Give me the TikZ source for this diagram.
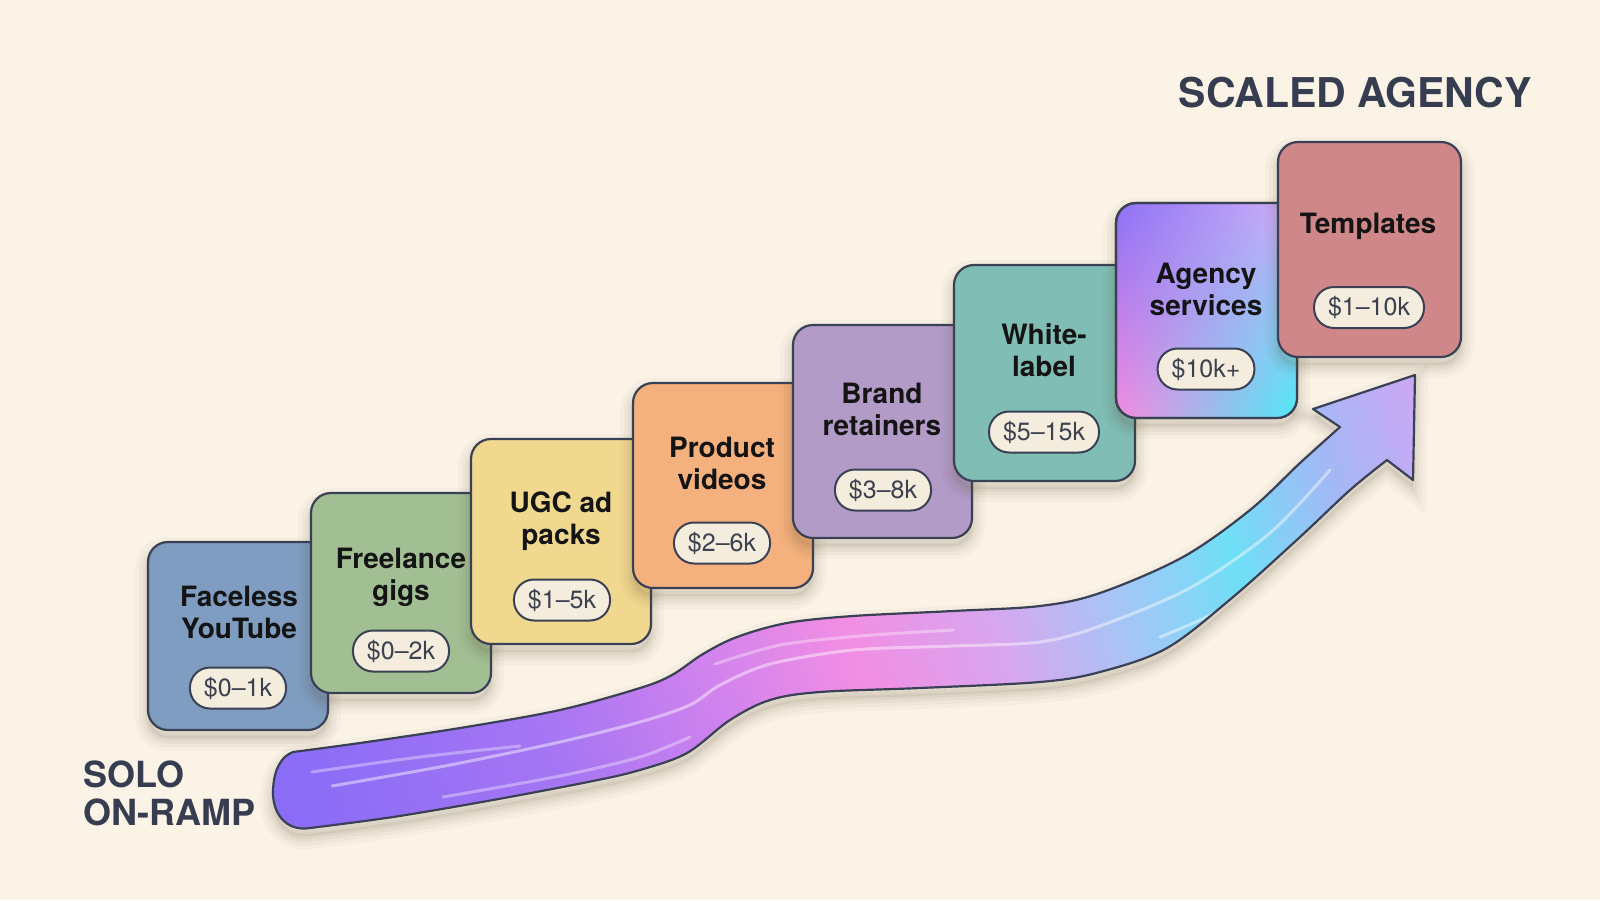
\documentclass[tikz,border=0pt]{standalone}
\usepackage{fontspec}
\setmainfont{TeX Gyre Heros}
\usetikzlibrary{fadings}
\definecolor{bgc}{HTML}{FAF3E6}
\definecolor{edge}{HTML}{3A4155}
\definecolor{ink}{HTML}{141414}
\definecolor{pillbg}{HTML}{F4ECDC}
\definecolor{pilltext}{HTML}{3C4150}
\definecolor{cornerc}{HTML}{363D50}
\definecolor{shd}{HTML}{5A4A30}
\definecolor{cA}{HTML}{7F9CC1}
\definecolor{cB}{HTML}{A2BF94}
\definecolor{cC}{HTML}{F0D88F}
\definecolor{cD}{HTML}{F4B17D}
\definecolor{cE}{HTML}{B29BC7}
\definecolor{cF}{HTML}{80BDB4}
\definecolor{cH}{HTML}{CF878A}
\definecolor{agTL}{HTML}{8C72F6}
\definecolor{agBL}{HTML}{F68BE0}
\definecolor{agTR}{HTML}{D3B2F7}
\definecolor{agBR}{HTML}{4EEAF6}
\definecolor{rb0}{HTML}{8A6CF7}
\definecolor{rb1}{HTML}{A676F3}
\definecolor{rb2}{HTML}{CF82EE}
\definecolor{rb3}{HTML}{F28EE4}
\definecolor{rb4}{HTML}{D8A6EE}
\definecolor{rb5}{HTML}{A8C4F6}
\definecolor{rb6}{HTML}{6FDFF6}
\definecolor{rb7}{HTML}{A4B8F6}
\definecolor{rb8}{HTML}{D0A6F4}
\pgfdeclarehorizontalshading{ribbonshade}{100bp}{color(0bp)=(rb0); color(27.7bp)=(rb0); color(37.7bp)=(rb1); color(43.8bp)=(rb2); color(49.6bp)=(rb3); color(55bp)=(rb4); color(59.6bp)=(rb5); color(64.6bp)=(rb6); color(69.2bp)=(rb7); color(73.8bp)=(rb8); color(100bp)=(rb8)}
\tikzfading[name=fadeR, left color=transparent!100, right color=transparent!0]
\newcommand\ribbonpath{plot[smooth, tension=0.55] coordinates {(293,752) (360,743) (460,728) (560,710) (640,688) (672,675) (703,654) (737,637) (787,623) (853,616) (953,611) (1040,606) (1100,593) (1183,557) (1250,510) (1300,463) (1340,427)} -- (1313,409) -- (1415,375) -- (1413,480) -- (1387,460) -- plot[smooth, tension=0.55] coordinates {(1387,460) (1350,490) (1300,537) (1233,597) (1167,648) (1100,672) (1040,682) (920,688) (820,692) (770,700) (730,720) (687,753) (640,770) (593,781) (493,800) (393,817) (310,828)} .. controls (285,832) and (272,812) .. (273,790) .. controls (274,768) and (282,756) .. (293,752) -- cycle}
\newcommand\ttlfont{\fontsize{28}{32}\selectfont\bfseries}
\newcommand\pilfont{\fontsize{25}{30}\selectfont}
\tikzset{
  softshadow/.style={
    preaction={fill=shd, fill opacity=.07, transform canvas={yshift=-8pt}},
    preaction={draw=shd, draw opacity=.06, line width=5pt, transform canvas={yshift=-8pt}},
    preaction={draw=shd, draw opacity=.05, line width=11pt, transform canvas={yshift=-8pt}},
    preaction={draw=shd, draw opacity=.04, line width=18pt, transform canvas={yshift=-8pt}},
    preaction={draw=shd, draw opacity=.03, line width=26pt, transform canvas={yshift=-8pt}}},
  box/.style={draw=edge, line width=2.2pt, rounded corners=20pt, inner sep=0pt, outer sep=0pt, softshadow},
  ttl/.style={font=\ttlfont, text=ink, align=center, anchor=north, inner sep=0pt,
    execute at begin node=\strut, execute at end node=\strut},
  pill/.style={draw=edge, line width=2pt, fill=pillbg, rounded corners=20pt, minimum height=41pt,
    inner xsep=14pt, inner ysep=0pt, font=\pilfont, text=pilltext},
  corner/.style={text=cornerc, inner sep=0pt},
  streak/.style={white, line width=3pt, line cap=round},
}
\begin{document}
\begin{tikzpicture}[x=1pt, y=-1pt]
\useasboundingbox (0,0) rectangle (1600,900);
\fill[bgc] (0,0) rectangle (1600,900);

% ribbon arrow
\path[softshadow] \ribbonpath;
\begin{scope}
  \clip \ribbonpath;
  \shade[shading=ribbonshade, transform canvas={rotate=19.3}] (-50,-1300) rectangle (1250,1300);
  \draw[streak, opacity=.45] plot[smooth] coordinates {(332,786) (450,765) (560,742) (640,722) (690,705) (720,685) (770,664) (853,650) (953,646) (1040,642) (1100,626) (1190,588) (1270,533) (1330,470)};
  \draw[streak, opacity=.35] plot[smooth] coordinates {(312,772) (420,757) (520,746)};
  \draw[streak, opacity=.35] plot[smooth] coordinates {(715,664) (780,645) (860,636) (953,630)};
  \draw[streak, opacity=.35] plot[smooth] coordinates {(443,797) (560,776) (640,757) (690,737)};
  \draw[streak, opacity=.45] plot[smooth] coordinates {(1160,637) (1220,610) (1280,567)};
\end{scope}
\draw[edge, line width=2.2pt, line join=round] \ribbonpath;

% steps
\node[box, fill=cA, minimum width=180pt, minimum height=188pt] (b1) at (238,636) {};
\node[ttl] (t1) at (239,585.6) {Faceless\\YouTube};
\node[pill] (p1) at (238,688) {\$0–1k};

\node[box, fill=cB, minimum width=180pt, minimum height=200pt] (b2) at (401,593) {};
\node[ttl] (t2) at (401,547.6) {Freelance\\gigs};
\node[pill] (p2) at (401,651) {\$0–2k};

\node[box, fill=cC, minimum width=180pt, minimum height=205pt] (b3) at (561,541.5) {};
\node[ttl] (t3) at (561,491.6) {UGC ad\\packs};
\node[pill] (p3) at (562,600) {\$1–5k};

\node[box, fill=cD, minimum width=180pt, minimum height=205pt] (b4) at (723,485.5) {};
\node[ttl] (t4) at (722,436.6) {Product\\videos};
\node[pill] (p4) at (722,543) {\$2–6k};

\node[box, fill=cE, minimum width=179pt, minimum height=213pt] (b5) at (882.5,431.5) {};
\node[ttl] (t5) at (882,382.6) {Brand\\retainers};
\node[pill] (p5) at (883,490) {\$3–8k};

\node[box, fill=cF, minimum width=181pt, minimum height=216pt] (b6) at (1044.5,373) {};
\node[ttl] (t6) at (1044,323.6) {White-\\label};
\node[pill] (p6) at (1044,432) {\$5–15k};

\node[box, top color=agTL, bottom color=agBL, minimum width=181pt, minimum height=215pt] (b7) at (1206.5,310.5) {};
\shade[top color=agTR, bottom color=agBR, path fading=fadeR, rounded corners=20pt] (b7.north west) rectangle (b7.south east);
\draw[edge, line width=2.2pt, rounded corners=20pt] (b7.north west) rectangle (b7.south east);
\node[ttl] (t7) at (1206,262.6) {Agency\\services};
\node[pill] (p7) at (1206,369) {\$10k+};

\node[box, fill=cH, minimum width=183pt, minimum height=215pt] (b8) at (1369.5,249.5) {};
\node[ttl] (t8) at (1368,210.6) {Templates};
\node[pill] (p8) at (1369,307.5) {\$1–10k};

% corner labels
\node[corner, font={\fontsize{41}{48}\selectfont\bfseries}, anchor=base east] (scaled) at (1532,107) {SCALED AGENCY};
\node[corner, font={\fontsize{36}{38}\selectfont\bfseries}, align=left, anchor=north west,
  execute at begin node=\strut] (solo) at (83,760.4) {SOLO\\ON-RAMP};
\end{tikzpicture}
\end{document}
